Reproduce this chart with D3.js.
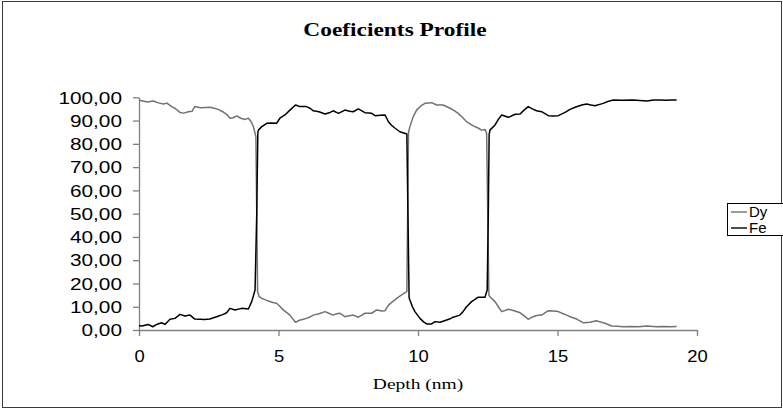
<!DOCTYPE html>
<html>
<head>
<meta charset="utf-8">
<script src="https://cdn.jsdelivr.net/npm/d3@7"></script>
<style>
  html, body { margin: 0; padding: 0; background: #fff; }
  svg { display: block; }
</style>
</head>
<body>
<svg id="chart" width="783" height="410"></svg>
<script>
// Composition profile of a Dy/Fe multilayer versus sputter depth
const chartTitle = "Coeficients Profile";
const xTitle = "Depth (nm)";
const seriesNames = ["Dy", "Fe"];

const dyDepth = [0.0,0.1,0.3,0.51,0.7,0.87,1.0,1.17,1.3,1.47,1.6,1.77,1.9,2.0,2.2,2.4,2.54,2.7,2.84,3.0,3.15,3.26,3.38,3.5,3.65,3.8,3.92,4.02,4.1,4.19,4.22,4.25,4.31,4.4,4.6,4.8,4.93,5.02,5.11,5.25,5.41,5.5,5.61,5.75,5.89,6.0,6.13,6.25,6.45,6.67,6.8,6.96,7.08,7.2,7.38,7.5,7.68,7.86,8.0,8.1,8.34,8.52,8.7,8.82,8.94,9.1,9.24,9.35,9.47,9.6,9.63,9.66,9.71,9.83,9.95,10.1,10.25,10.49,10.67,10.9,11.15,11.3,11.44,11.6,11.74,11.98,12.15,12.28,12.4,12.46,12.5,12.54,12.58,12.76,12.88,13.0,13.24,13.45,13.66,13.8,13.95,14.1,14.25,14.43,14.67,14.85,15.03,15.2,15.33,15.5,15.69,15.93,16.16,16.4,16.55,16.7,16.94,17.15,17.36,17.6,17.9,18.2,18.55,18.8,19.05,19.27];
const dyValues = [98.7,98.5,98.0,98.4,97.6,97.1,97.5,96.0,95.2,93.5,93.2,93.8,94.0,96.0,95.5,95.6,95.7,95.3,94.8,93.8,92.6,91.0,91.2,92.0,91.0,90.5,91.0,89.5,87.4,83.0,50.0,16.5,14.3,13.6,12.6,11.8,11.5,10.5,9.3,7.9,6.4,5.0,3.3,4.2,4.6,5.0,5.6,6.4,7.0,7.9,7.2,6.4,7.0,7.2,5.7,6.0,6.4,5.5,6.5,7.2,7.2,8.6,8.2,8.3,10.7,12.3,13.6,14.6,15.5,16.5,50.0,85.0,87.4,91.7,94.5,96.3,97.4,97.7,96.7,96.7,95.3,94.3,93.1,91.3,89.5,87.7,86.8,85.9,86.2,84.5,50.0,15.0,14.3,12.2,10.0,7.9,8.9,8.3,7.4,6.2,4.6,5.6,6.2,6.4,8.3,8.2,7.9,7.0,6.4,5.5,4.7,3.1,3.3,4.0,3.4,2.9,1.7,1.6,1.4,1.5,1.4,1.7,1.4,1.5,1.4,1.5];

const feDepth = [0.0,0.1,0.33,0.49,0.63,0.81,0.93,1.11,1.29,1.47,1.65,1.83,2.0,2.19,2.35,2.54,2.78,3.0,3.14,3.26,3.44,3.68,3.92,4.04,4.16,4.22,4.26,4.28,4.4,4.58,4.75,4.93,5.05,5.23,5.41,5.61,5.77,6.0,6.13,6.25,6.45,6.67,6.85,6.96,7.15,7.38,7.55,7.68,7.86,8.1,8.34,8.46,8.65,8.82,8.94,9.05,9.18,9.35,9.6,9.64,9.68,9.71,9.8,9.89,10.07,10.2,10.31,10.49,10.61,10.79,11.03,11.15,11.26,11.5,11.62,11.74,11.92,12.16,12.4,12.48,12.52,12.55,12.58,12.76,12.88,13.0,13.24,13.48,13.66,13.8,13.95,14.1,14.25,14.43,14.67,14.85,15.03,15.27,15.45,15.63,15.87,16.04,16.2,16.34,16.64,16.8,17.0,17.3,17.72,17.95,18.2,18.45,18.67,18.9,19.09,19.27];
const feValues = [1.8,1.7,2.4,1.4,2.4,3.1,2.4,4.6,5.0,6.7,6.0,6.4,4.7,4.6,4.5,4.7,5.7,6.6,7.4,9.3,8.6,9.3,9.0,12.2,17.2,50.0,85.0,85.9,87.4,88.8,89.0,88.8,91.0,92.4,94.5,96.7,96.0,96.0,95.3,94.2,93.8,92.8,93.5,94.2,93.1,94.5,94.0,93.8,95.0,93.4,93.1,92.1,92.3,92.4,89.5,88.0,86.7,85.2,84.2,50.0,14.0,12.9,10.0,7.9,5.0,3.5,2.6,2.6,3.6,3.3,4.3,4.8,5.5,6.4,8.0,10.0,12.2,14.1,14.1,17.2,50.0,84.0,85.9,88.1,90.5,92.4,91.4,92.7,92.8,94.5,96.0,95.0,94.2,93.8,92.1,92.0,92.1,93.5,94.8,95.7,96.7,97.1,96.7,96.4,97.4,98.2,98.8,98.7,98.8,98.6,98.4,98.8,98.8,98.7,98.8,98.8];

const xTicks = [0, 5, 10, 15, 20];
const yTicks = [0, 10, 20, 30, 40, 50, 60, 70, 80, 90, 100];

const colors = { Dy: "#727272", Fe: "#000000" };

const svg = d3.select("#chart");
const plot = { left: 139, right: 697, top: 97.3, bottom: 330 };

// Decimal comma number format (e.g. "100,00")
const locale = d3.formatLocale({ decimal: ",", thousands: ".", grouping: [3], currency: ["", ""] });
const fmtY = locale.format(".2f");

const x = d3.scaleLinear().domain([0, 20]).range([plot.left, plot.right]);
const y = d3.scaleLinear().domain([0, 100]).range([plot.bottom, plot.top]);

// chart frame
svg.append("rect")
  .attr("x", 2.5).attr("y", 1.5)
  .attr("width", 779).attr("height", 406)
  .attr("fill", "#fff").attr("stroke", "#3a3a3a").attr("stroke-width", 1);

// title
svg.append("text")
  .attr("transform", `translate(${(plot.left + plot.right) / 2 - 23},36) scale(1.3,1)`)
  .attr("text-anchor", "middle")
  .attr("font-family", "'Liberation Serif', 'Times New Roman', serif")
  .attr("font-weight", "bold")
  .attr("font-size", 18)
  .attr("fill", "#000")
  .text(chartTitle);

// y axis
const yAxis = d3.axisLeft(y).tickValues(yTicks).tickFormat(fmtY).tickSize(6).tickSizeOuter(0);
const gy = svg.append("g").attr("transform", `translate(${plot.left},0)`).call(yAxis);
gy.select(".domain").attr("stroke", "#808080").attr("stroke-width", 1.3);
gy.selectAll(".tick line").attr("stroke", "#808080").attr("stroke-width", 1.3);
gy.selectAll(".tick text")
  .attr("x", null).attr("dy", "0.36em")
  .attr("transform", "translate(-17,0) scale(1.3,1)")
  .attr("font-family", "'Liberation Sans', Arial, sans-serif")
  .attr("font-size", 16)
  .attr("fill", "#000");

// x axis
const xAxis = d3.axisBottom(x).tickValues(xTicks).tickFormat(d3.format("d")).tickSize(6).tickSizeOuter(0);
const gx = svg.append("g").attr("transform", `translate(0,${plot.bottom})`).call(xAxis);
gx.select(".domain").attr("stroke", "#808080").attr("stroke-width", 1.3);
gx.selectAll(".tick line").attr("stroke", "#808080").attr("stroke-width", 1.3);
gx.selectAll(".tick text")
  .attr("y", null).attr("dy", null)
  .attr("transform", "translate(0,32) scale(1.15,1)")
  .attr("font-family", "'Liberation Sans', Arial, sans-serif")
  .attr("font-size", 16)
  .attr("fill", "#000");

// x axis title
svg.append("text")
  .attr("transform", `translate(${(plot.left + plot.right) / 2},389) scale(1.3,1)`)
  .attr("text-anchor", "middle")
  .attr("font-family", "'Liberation Serif', 'Times New Roman', serif")
  .attr("font-size", 15)
  .attr("fill", "#000")
  .text(xTitle);

// series lines
const series = [
  { name: "Dy", depth: dyDepth, values: dyValues },
  { name: "Fe", depth: feDepth, values: feValues }
];
const line = d3.line().x(d => x(d[0])).y(d => y(d[1]));
svg.append("g").selectAll("path")
  .data(series)
  .join("path")
  .attr("d", s => line(s.depth.map((d, i) => [d, s.values[i]])))
  .attr("fill", "none")
  .attr("stroke", s => colors[s.name])
  .attr("stroke-width", 1.5)
  .attr("stroke-linejoin", "round");

// legend
const lg = svg.append("g").attr("transform", "translate(727,203)");
lg.append("rect").attr("x", 0.5).attr("y", 0.5).attr("width", 56).attr("height", 32)
  .attr("fill", "#fff").attr("stroke", "#000").attr("stroke-width", 1);
seriesNames.forEach((n, i) => {
  const cy = 9 + i * 16;
  lg.append("line").attr("x1", 4).attr("x2", 20).attr("y1", cy).attr("y2", cy)
    .attr("stroke", colors[n]).attr("stroke-width", 1.4);
  lg.append("text").attr("x", 22).attr("y", cy).attr("dy", "0.36em")
    .attr("font-family", "'Liberation Sans', Arial, sans-serif")
    .attr("font-size", 15).attr("fill", "#000")
    .text(n);
});
</script>
</body>
</html>
